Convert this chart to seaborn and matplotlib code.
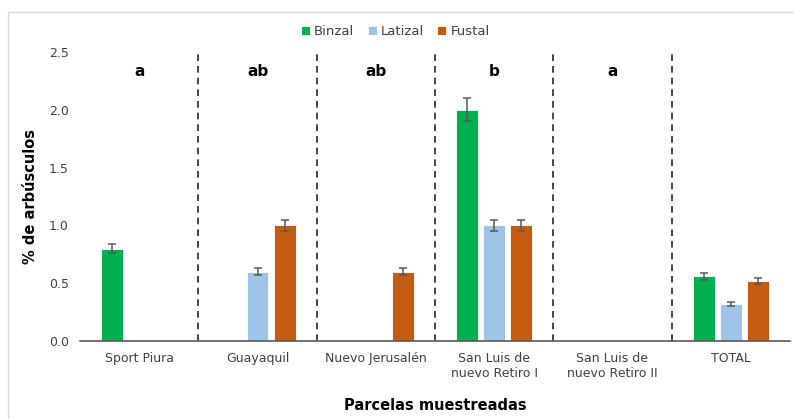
import matplotlib
matplotlib.use("Agg")
import matplotlib.pyplot as plt
import seaborn as sns
import pandas as pd
from matplotlib.patches import Rectangle

sites = ["Sport Piura", "Guayaquil", "Nuevo Jerusalén", "San Luis de\nnuevo Retiro I",
         "San Luis de\nnuevo Retiro II", "TOTAL"]
stages = ["Binzal", "Latizal", "Fustal"]
binzal = [0.80, 0.0, 0.0, 2.00, 0.0, 0.56]
latizal = [0.0, 0.60, 0.0, 1.00, 0.0, 0.32]
fustal = [0.0, 1.00, 0.60, 1.00, 0.0, 0.52]
err_binzal = [0.04, 0, 0, 0.10, 0, 0.03]
err_latizal = [0, 0.03, 0, 0.05, 0, 0.015]
err_fustal = [0, 0.05, 0.03, 0.05, 0, 0.025]
letters = ["a", "ab", "ab", "b", "a", ""]
colors = ["#00B050", "#9DC3E6", "#C55A11"]

rows = []
for vals, errs, st in [(binzal, err_binzal, "Binzal"), (latizal, err_latizal, "Latizal"),
                       (fustal, err_fustal, "Fustal")]:
    for s, v, e in zip(sites, vals, errs):
        rows.append({"site": s, "stage": st, "value": v, "err": e})
df = pd.DataFrame(rows)

sns.set_theme(style="white")
plt.rcParams["font.family"] = ["DejaVu Sans"]

fig = plt.figure(figsize=(7.94, 4.19), dpi=100)
ax = fig.add_axes([80 / 794, 78 / 419, 710 / 794, 289 / 419])

sns.barplot(data=df, x="site", y="value", hue="stage", hue_order=stages, palette=colors,
            saturation=1, width=0.69, gap=0.2, edgecolor="white", linewidth=0.6, ax=ax, legend=True)

# error bars on bars that exist
for i, st in enumerate(stages):
    cont = ax.containers[i]
    sub = df[df.stage == st].reset_index(drop=True)
    for bar, (_, r) in zip(cont, sub.iterrows()):
        if r["value"] > 0:
            xc = bar.get_x() + bar.get_width() / 2
            ax.errorbar(xc, r["value"], yerr=r["err"], fmt="none", ecolor="#595959",
                        elinewidth=1.1, capsize=3, capthick=1.1)

for k in range(len(sites) - 1):
    ax.axvline(k + 0.5, ymax=1.0, color="#262626", linestyle=(0, (4, 3)), linewidth=1.2, zorder=0)

for k, t in enumerate(letters):
    if t:
        ax.text(k, 2.33, t, ha="center", va="center", fontsize=11, fontweight="bold", color="#000000")

ax.set_xlim(-0.5, len(sites) - 0.5)
ax.set_ylim(0, 2.5)
ax.set_yticks([0, 0.5, 1.0, 1.5, 2.0, 2.5])
ax.set_yticklabels(["0.0", "0.5", "1.0", "1.5", "2.0", "2.5"])
ax.tick_params(axis="both", length=0, labelsize=9, colors="#404040", pad=8)
for sp in ["top", "right", "left"]:
    ax.spines[sp].set_visible(False)
ax.spines["bottom"].set_color("#595959")
ax.spines["bottom"].set_linewidth(1.2)

ax.set_xlabel("Parcelas muestreadas", fontsize=10.5, fontweight="bold", color="#000000", labelpad=13)
ax.set_ylabel("% de arbúsculos", fontsize=10.5, fontweight="bold", color="#000000", labelpad=8)

ax.legend(loc="upper center", bbox_to_anchor=(0.444, 1.135), ncol=3, frameon=False,
          fontsize=9.5, handlelength=0.7, handleheight=0.7, handletextpad=0.3, columnspacing=1.0,
          labelcolor="#404040")

fig.patches.append(Rectangle((8 / 794, -0.01), 1.0, 1 - 12 / 419 + 0.01, transform=fig.transFigure,
                             fill=False, edgecolor="#d9d9d9", linewidth=1))

fig.savefig("out.png", dpi=100, facecolor="white")
